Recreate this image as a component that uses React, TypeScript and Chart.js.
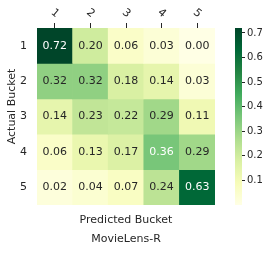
import React, { useEffect, useRef } from 'react';
import { Chart, registerables } from 'chart.js';

Chart.register(...registerables);

// ---- data ----
const predictedLabels = ['1', '2', '3', '4', '5'];
const actualLabels = ['1', '2', '3', '4', '5'];
const row1 = [0.72, 0.2, 0.06, 0.03, 0.0];
const row2 = [0.32, 0.32, 0.18, 0.14, 0.03];
const row3 = [0.14, 0.23, 0.22, 0.29, 0.11];
const row4 = [0.06, 0.13, 0.17, 0.36, 0.29];
const row5 = [0.02, 0.04, 0.07, 0.24, 0.63];
const rows = [row1, row2, row3, row4, row5];
const colorbarTicks = [0.1, 0.2, 0.3, 0.4, 0.5, 0.6, 0.7];
const xAxisTitle = 'Predicted Bucket';
const yAxisTitle = 'Actual Bucket';
const chartTitle = 'MovieLens-R';

// ---- style ----
const FONT = 'DejaVu Sans';
const TEXT = '#262626';
const YLGN: number[][] = [
  [255, 255, 229],
  [247, 252, 185],
  [217, 240, 163],
  [173, 221, 142],
  [120, 198, 121],
  [65, 171, 93],
  [35, 132, 67],
  [0, 104, 55],
  [0, 69, 41],
];

const allValues = rows.flat();
const vmin = Math.min(...allValues);
const vmax = Math.max(...allValues);

function cmap(v: number): number[] {
  let t = (v - vmin) / (vmax - vmin);
  t = Math.max(0, Math.min(1, t));
  const p = t * (YLGN.length - 1);
  const i = Math.min(YLGN.length - 2, Math.floor(p));
  const f = p - i;
  const a = YLGN[i];
  const b = YLGN[i + 1];
  return [0, 1, 2].map((k) => a[k] + (b[k] - a[k]) * f);
}
function rgb(c: number[]) {
  return `rgb(${Math.round(c[0])},${Math.round(c[1])},${Math.round(c[2])})`;
}
function luminance(c: number[]) {
  const lin = c.map((x) => {
    const s = x / 255;
    return s <= 0.03928 ? s / 12.92 : Math.pow((s + 0.055) / 1.055, 2.4);
  });
  return 0.2126 * lin[0] + 0.7152 * lin[1] + 0.0722 * lin[2];
}
function textColor(v: number) {
  return luminance(cmap(v)) > 0.49 ? TEXT : '#ffffff';
}

const annotatePlugin = {
  id: 'annotateCells',
  afterDatasetsDraw(chart: any) {
    const ctx = chart.ctx;
    ctx.save();
    ctx.font = `11px "${FONT}"`;
    ctx.textAlign = 'center';
    ctx.textBaseline = 'middle';
    chart.data.datasets.forEach((_ds: any, di: number) => {
      const meta = chart.getDatasetMeta(di);
      meta.data.forEach((el: any, i: number) => {
        const v = rows[di][i];
        const { x, y, base } = el.getProps(['x', 'y', 'base'], true);
        ctx.fillStyle = textColor(v);
        ctx.fillText(v.toFixed(2), x, (y + base) / 2);
      });
    });
    ctx.restore();
  },
};

// y-axis title, drawn a little above the axis centre as in the reference
const yTitlePlugin = {
  id: 'yTitle',
  afterDraw(chart: any) {
    const ctx = chart.ctx;
    const ys = chart.scales.y;
    ctx.save();
    ctx.font = `11px "${FONT}"`;
    ctx.fillStyle = TEXT;
    ctx.textAlign = 'center';
    ctx.textBaseline = 'middle';
    ctx.translate(ys.left + 12, (ys.top + ys.bottom) / 2 - 10);
    ctx.rotate(-Math.PI / 2);
    ctx.fillText(yAxisTitle, 0, 0);
    ctx.restore();
  },
};

export default function App() {
  const mainRef = useRef<HTMLCanvasElement>(null);
  const barRef = useRef<HTMLCanvasElement>(null);

  useEffect(() => {
    Chart.defaults.font.family = FONT;
    const main = new Chart(mainRef.current as HTMLCanvasElement, {
      type: 'bar',
      data: {
        labels: predictedLabels,
        datasets: rows.map((row, r) => ({
          label: actualLabels[r],
          data: row.map(() => [r, r + 1]),
          backgroundColor: row.map((v) => rgb(cmap(v))),
          borderWidth: 0,
          grouped: false,
          barPercentage: 1,
          categoryPercentage: 1,
        })),
      } as any,
      options: {
        responsive: false,
        animation: false,
        events: [],
        layout: { padding: { left: 0, right: 60, top: 0, bottom: 4.6 } },
        plugins: {
          legend: { display: false },
          tooltip: { enabled: false },
          title: {
            display: true,
            position: 'bottom',
            fullSize: false,
            text: [xAxisTitle, chartTitle],
            color: TEXT,
            font: { family: FONT, size: 11, weight: 'normal', lineHeight: 1.7 },
            padding: { top: 6, bottom: 0 },
          },
        },
        scales: {
          x: {
            type: 'category',
            position: 'top',
            offset: true,
            afterFit: (s: any) => {
              s.height = 28;
            },
            grid: {
              display: true,
              drawOnChartArea: false,
              drawTicks: true,
              tickLength: 5,
              color: TEXT,
              offset: false,
            },
            border: { display: false },
            ticks: {
              minRotation: -40,
              maxRotation: -40,
              padding: 7,
              labelOffset: -11,
              color: TEXT,
              font: { family: FONT, size: 11 },
            },
          },
          y: {
            type: 'linear',
            min: 0,
            max: actualLabels.length,
            reverse: true,
            afterFit: (s: any) => {
              s.width = 37;
            },
            afterBuildTicks: (s: any) => {
              s.ticks = actualLabels.map((_l, i) => ({ value: i + 0.5 }));
            },
            grid: { display: false, drawTicks: false, tickLength: 0 },
            border: { display: false },
            title: { display: false },
            ticks: {
              padding: 10,
              color: TEXT,
              font: { family: FONT, size: 11 },
              callback: (_v: any, i: number) => actualLabels[i],
            },
          },
        },
      } as any,
      plugins: [annotatePlugin, yTitlePlugin],
    });

    const cb = new Chart(barRef.current as HTMLCanvasElement, {
      type: 'bar',
      data: {
        labels: [''],
        datasets: [
          {
            data: [[vmin, vmax]],
            backgroundColor: (c: any) => {
              const chart = c.chart;
              const ys = chart.scales && chart.scales.y;
              if (!chart.chartArea || !ys) return rgb(YLGN[0]);
              const g = chart.ctx.createLinearGradient(
                0,
                ys.getPixelForValue(vmin),
                0,
                ys.getPixelForValue(vmax)
              );
              YLGN.forEach((col, i) => g.addColorStop(i / (YLGN.length - 1), rgb(col)));
              return g;
            },
            borderWidth: 0,
            barPercentage: 1,
            categoryPercentage: 1,
          },
        ],
      } as any,
      options: {
        responsive: false,
        animation: false,
        events: [],
        layout: { padding: { left: 15, right: 0, top: 28, bottom: 48 } },
        plugins: { legend: { display: false }, tooltip: { enabled: false }, title: { display: false } },
        scales: {
          x: { display: false },
          y: {
            type: 'linear',
            position: 'right',
            min: vmin,
            max: vmax,
            afterFit: (s: any) => {
              s.width = 33;
            },
            afterBuildTicks: (s: any) => {
              s.ticks = colorbarTicks.map((v) => ({ value: v }));
            },
            grid: {
              display: true,
              drawOnChartArea: false,
              drawTicks: true,
              tickLength: 3,
              color: TEXT,
            },
            border: { display: false },
            ticks: {
              padding: 2,
              color: TEXT,
              font: { family: FONT, size: 10 },
              callback: (v: any) => Number(v).toFixed(1),
            },
          },
        },
      } as any,
    });

    return () => {
      main.destroy();
      cb.destroy();
    };
  }, []);

  return (
    <div style={{ position: 'fixed', left: 0, top: 0, width: 275, height: 253, background: '#ffffff' }}>
      <canvas
        ref={mainRef}
        width={275}
        height={253}
        style={{ position: 'absolute', left: 0, top: 0, width: 275, height: 253 }}
      />
      <canvas
        ref={barRef}
        width={55}
        height={253}
        style={{ position: 'absolute', left: 220, top: 0, width: 55, height: 253 }}
      />
    </div>
  );
}
